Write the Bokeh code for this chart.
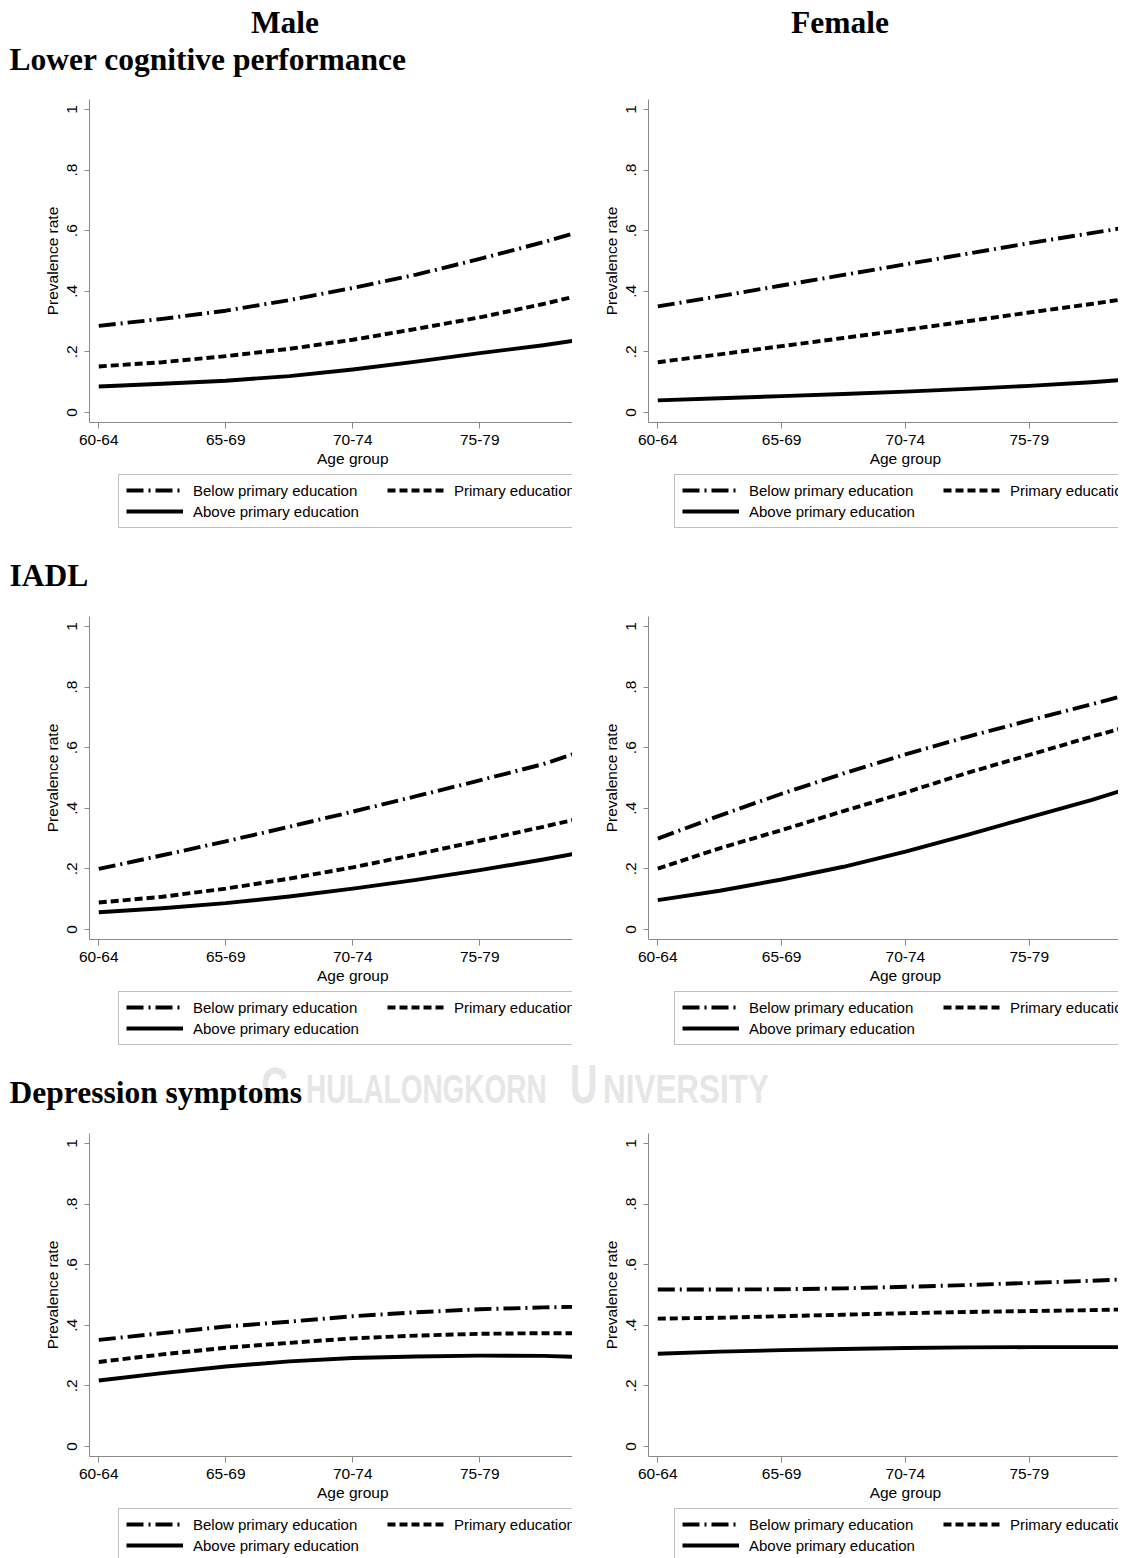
from bokeh.plotting import figure
from bokeh.models import Legend, LegendItem, FixedTicker, Range1d, Div, Label
from bokeh.layouts import column, row
from bokeh.embed import file_html
from bokeh.resources import INLINE

# ---------------- data ----------------
age_groups = ["60-64", "65-69", "70-74", "75-79"]
age_ticks = [0, 1, 2, 3]
# positions along the age axis at which the curves were read (axis is cut after 75-79)
age_pos = [0, 0.5, 1, 1.5, 2, 2.5, 3, 3.5, 3.73]
x_title_pos = 2          # the x-axis title sits under 70-74 (centre of the uncropped axis)

series_names = ["Below primary education", "Primary education", "Above primary education"]
y_ticks = [0, 0.2, 0.4, 0.6, 0.8, 1]
y_tick_labels = ["0", ".2", ".4", ".6", ".8", "1"]

row_titles = ["Lower cognitive performance", "IADL", "Depression symptoms"]
col_titles = ["Male", "Female"]
x_title = "Age group"
y_title = "Prevalence rate"

male_cog_below = [0.286, 0.309, 0.336, 0.371, 0.411, 0.455, 0.507, 0.562, 0.590]
male_cog_primary = [0.152, 0.166, 0.186, 0.210, 0.240, 0.276, 0.314, 0.358, 0.381]
male_cog_above = [0.086, 0.095, 0.105, 0.120, 0.142, 0.168, 0.196, 0.222, 0.236]

female_cog_below = [0.350, 0.384, 0.419, 0.454, 0.489, 0.524, 0.559, 0.592, 0.607]
female_cog_primary = [0.166, 0.192, 0.219, 0.246, 0.273, 0.301, 0.330, 0.358, 0.372]
female_cog_above = [0.040, 0.047, 0.054, 0.061, 0.069, 0.078, 0.088, 0.100, 0.107]

male_iadl_below = [0.200, 0.245, 0.291, 0.339, 0.389, 0.440, 0.492, 0.546, 0.578]
male_iadl_primary = [0.089, 0.108, 0.135, 0.168, 0.205, 0.248, 0.293, 0.339, 0.361]
male_iadl_above = [0.057, 0.070, 0.087, 0.109, 0.135, 0.164, 0.196, 0.231, 0.249]

female_iadl_below = [0.300, 0.376, 0.448, 0.515, 0.578, 0.636, 0.690, 0.743, 0.768]
female_iadl_primary = [0.201, 0.268, 0.328, 0.391, 0.452, 0.517, 0.576, 0.636, 0.662]
female_iadl_above = [0.097, 0.128, 0.165, 0.207, 0.257, 0.312, 0.370, 0.427, 0.456]

male_dep_below = [0.352, 0.374, 0.396, 0.412, 0.430, 0.443, 0.453, 0.459, 0.461]
male_dep_primary = [0.279, 0.304, 0.326, 0.342, 0.357, 0.366, 0.372, 0.374, 0.374]
male_dep_above = [0.218, 0.242, 0.264, 0.281, 0.292, 0.297, 0.300, 0.299, 0.296]

female_dep_below = [0.518, 0.518, 0.519, 0.522, 0.527, 0.533, 0.540, 0.547, 0.551]
female_dep_primary = [0.422, 0.425, 0.430, 0.435, 0.440, 0.444, 0.447, 0.450, 0.452]
female_dep_above = [0.306, 0.313, 0.318, 0.322, 0.325, 0.327, 0.328, 0.328, 0.328]

panels = [
    [(male_cog_below, male_cog_primary, male_cog_above),
     (female_cog_below, female_cog_primary, female_cog_above)],
    [(male_iadl_below, male_iadl_primary, male_iadl_above),
     (female_iadl_below, female_iadl_primary, female_iadl_above)],
    [(male_dep_below, male_dep_primary, male_dep_above),
     (female_dep_below, female_dep_primary, female_dep_above)],
]

# ---------------- layout / style ----------------
DIV_H = [92, 64, 64]
MAIN_H = 359
SUB_H = [94, 94, 73]
MB_TOP = 7
FRAME_H = 323
COLS = [
    dict(fig_w=572, mbl=89, xr=(-0.073, 3.730), leg_x=29),
    dict(fig_w=546, mbl=76, xr=(-0.075, 3.721), leg_x=26),
]
YR = (-0.033, 1.033)
XT_BASE = 6.5        # x-title baseline below the top of the strip under each plot
LEG_BOTTOM = 76.7    # legend bottom below the top of that strip

SANS = "Liberation Sans"
SERIF = "Liberation Serif"
AXIS_GRAY = "#8a8a8a"
styles = [dict(line_dash="17 5 2 5"), dict(line_dash="8 4"), dict(line_dash="solid")]
LW = 3.9

SERIF_B = 0.8375
SANS_B = 0.8465


def span(text, left, baseline, size, family, weight="bold", color="black", center_w=None,
         scale=None):
    top = baseline - (SANS_B if family == SANS else SERIF_B) * size
    st = (f"position:absolute;top:{top:.1f}px;font-family:'{family}';font-weight:{weight};"
          f"font-size:{size}px;line-height:1;white-space:nowrap;color:{color};")
    if center_w is not None:
        st += f"left:{left - center_w / 2:.1f}px;width:{center_w}px;text-align:center;"
    else:
        st += f"left:{left:.1f}px;"
    if scale is not None:
        st += f"transform:scaleX({scale});transform-origin:0 0;"
    return f'<span style="{st}">{text}</span>'


def band(height, spans):
    html = (f'<div style="position:relative;width:1130px;height:{height}px;">'
            + "".join(spans) + "</div>")
    return Div(text=html, width=1130, height=height, margin=0)


WM = "#e6e6e6"
bands = [
    band(DIV_H[0], [
        span(col_titles[0], 285, 33.3, 31.5, SERIF, center_w=300),
        span(col_titles[1], 840, 33.3, 31.5, SERIF, center_w=300),
        span(row_titles[0], 9.5, 70, 31.5, SERIF),
    ]),
    band(DIV_H[1], [span(row_titles[1], 9.5, 41.7, 31.5, SERIF)]),
    band(DIV_H[2], [
        span("C", 260.5, 41.7, 52, SANS, color=WM, scale=0.72),
        span("HULALONGKORN", 305.5, 41.7, 40.5, SANS, color=WM, scale=0.69),
        span("U", 569.5, 41.7, 55, SANS, color=WM, scale=0.69),
        span("NIVERSITY", 603, 41.7, 40.5, SANS, color=WM, scale=0.776),
        span(row_titles[2], 9.5, 41.3, 31.5, SERIF),
    ]),
]


def main_fig(r, c):
    g = COLS[c]
    p = figure(width=g["fig_w"], height=MAIN_H, output_backend="svg", toolbar_location=None,
               x_range=Range1d(*g["xr"]), y_range=Range1d(*YR),
               min_border_left=g["mbl"], min_border_right=0,
               min_border_top=MB_TOP, min_border_bottom=MAIN_H - MB_TOP - FRAME_H,
               background_fill_color="white", border_fill_color="white")
    p.outline_line_color = None
    p.xgrid.visible = False
    p.ygrid.visible = False
    for ax in (p.xaxis[0], p.yaxis[0]):
        ax.axis_line_color = AXIS_GRAY
        ax.major_tick_line_color = AXIS_GRAY
        ax.minor_tick_line_color = None
        ax.major_tick_in = 0
        ax.major_label_text_font = SANS
        ax.major_label_text_font_size = "15.5px"
        ax.major_label_text_color = "black"
        ax.axis_label_text_font = SANS
        ax.axis_label_text_font_size = "15.5px"
        ax.axis_label_text_font_style = "normal"
        ax.axis_label_text_color = "black"
    p.xaxis.ticker = FixedTicker(ticks=age_ticks)
    p.xaxis.major_label_overrides = {t: lab for t, lab in zip(age_ticks, age_groups)}
    p.xaxis.major_tick_out = 6
    p.xaxis.major_label_standoff = 6
    p.yaxis.ticker = FixedTicker(ticks=y_ticks)
    p.yaxis.major_label_overrides = {t: lab for t, lab in zip(y_ticks, y_tick_labels)}
    p.yaxis.major_label_orientation = "vertical"
    p.yaxis.major_tick_out = 5
    p.yaxis.major_label_standoff = 7
    p.yaxis.axis_label = y_title
    p.yaxis.axis_label_standoff = 4
    for vals, st in zip(panels[r][c], styles):
        p.line(age_pos, vals, line_color="black", line_width=LW, line_join="round", **st)
    return p


def sub_fig(r, c):
    """strip under each plot: x-axis title and legend"""
    g = COLS[c]
    h = SUB_H[r]
    q = figure(width=g["fig_w"], height=h, output_backend="svg", toolbar_location=None,
               x_range=Range1d(*g["xr"]), y_range=Range1d(0, h),
               x_axis_type=None, y_axis_type=None,
               min_border_left=g["mbl"], min_border_right=0, min_border_top=0,
               min_border_bottom=0, background_fill_color="white", border_fill_color="white")
    q.outline_line_color = None
    q.add_layout(Label(x=x_title_pos, y=h - XT_BASE, text=x_title, text_align="center",
                       text_baseline="alphabetic", text_font=SANS, text_font_size="15.5px",
                       text_color="black"))
    items = []
    # hidden copies of the panel's curves: they only supply the legend's line samples
    for name, vals, st in zip(series_names, panels[r][c], styles):
        rr = q.line(age_pos, vals, line_color="black", line_width=LW, visible=False, **st)
        items.append(LegendItem(label=name, renderers=[rr]))
    leg = Legend(items=items, location=(g["leg_x"], h - LEG_BOTTOM), orientation="horizontal",
                 ncols=2, label_text_font=SANS, label_text_font_size="15px",
                 label_text_color="black", glyph_width=57, glyph_height=16,
                 label_height=16, label_standoff=10, label_width=190, spacing=4,
                 padding=7, margin=0, border_line_color="#808080", border_line_width=1,
                 background_fill_color="white", background_fill_alpha=1.0,
                 inactive_fill_alpha=0.0)
    q.add_layout(leg, "center")
    return q


blocks = []
for r in range(3):
    blocks.append(bands[r])
    cols = [column(main_fig(r, c), sub_fig(r, c)) for c in range(2)]
    blocks.append(row(*cols))

layout = column(*blocks)
open("out.html", "w").write(file_html(layout, INLINE))
